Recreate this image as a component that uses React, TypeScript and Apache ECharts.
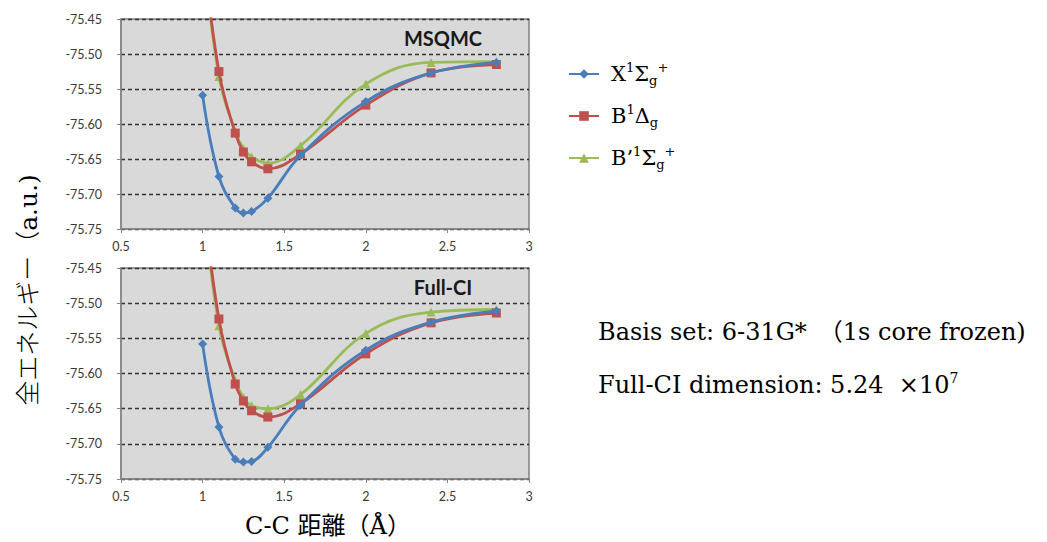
import React, { useEffect, useRef } from "react";
import * as echarts from "echarts";

const xValues = [1.0, 1.1, 1.2, 1.25, 1.3, 1.4, 1.6, 2.0, 2.4, 2.8];

const msqmcX = [-75.559, -75.675, -75.72, -75.727, -75.725, -75.706, -75.645, -75.568, -75.527, -75.512];
const msqmcB = [-75.34, -75.525, -75.613, -75.64, -75.654, -75.664, -75.643, -75.573, -75.527, -75.515];
const msqmcBp = [-75.34, -75.532, -75.611, -75.635, -75.647, -75.656, -75.631, -75.543, -75.512, -75.511];

const fciX = [-75.558, -75.676, -75.722, -75.726, -75.725, -75.705, -75.645, -75.567, -75.527, -75.511];
const fciB = [-75.34, -75.5225, -75.615, -75.639, -75.653, -75.662, -75.643, -75.572, -75.528, -75.514];
const fciBp = [-75.34, -75.532, -75.61, -75.634, -75.646, -75.65, -75.63, -75.543, -75.5126, -75.509];

const seriesNames = ["X1Σg+", "B1Δg", "B'1Σg+"];
const legendRich = [
  "{sp| }{n|X}{sup|1}{n|Σ}{sub|g}{sup|+}",
  "{sp| }{n|B}{sup|1}{n|Δ}{sub|g}",
  "{sp| }{n|B’}{sup|1}{n|Σ}{sub|g}{sup|+}",
];
const colors = ["#4a7ebb", "#c0504d", "#9bbb59"];
const symbols = ["diamond", "rect", "triangle"];
const symbolSizes = [9, 9, 9];

const panelTitles = ["MSQMC", "Full-CI"];
const yMin = -75.75;
const yMax = -75.45;
const yStep = 0.05;
const xMin = 0.5;
const xMax = 3;
const xStep = 0.5;

const serif = "'DejaVu Serif', 'Noto Sans CJK JP', serif";
const sans = "Lato, 'Open Sans', sans-serif";

export default function App() {
  const ref = useRef<HTMLDivElement>(null);
  useEffect(() => {
    if (!ref.current) return;
    const chart = echarts.init(ref.current, null, { renderer: "svg" });
    const grids = [
      { left: 121, top: 19, width: 408, height: 210 },
      { left: 121, top: 268, width: 408, height: 211 },
    ].map((g) => ({
      ...g,
      show: true,
      backgroundColor: "#d9d9d9",
      borderColor: "#7f7f7f",
      borderWidth: 1.5,
    }));
    const xAxes = [0, 1].map((i) => ({
      type: "value",
      gridIndex: i,
      min: xMin,
      max: xMax,
      interval: xStep,
      axisLine: { show: true, onZero: false, lineStyle: { color: "#868686", width: 1.5 } },
      axisTick: { show: true, length: 4, lineStyle: { color: "#868686" } },
      axisLabel: { color: "#3a3a3a", fontFamily: sans, fontSize: 12.5, margin: 11 },
      splitLine: { show: false },
    }));
    const yAxes = [0, 1].map((i) => ({
      type: "value",
      gridIndex: i,
      min: yMin,
      max: yMax,
      interval: yStep,
      axisLine: { show: true, lineStyle: { color: "#868686", width: 1.5 } },
      axisTick: { show: true, length: 4, lineStyle: { color: "#868686" } },
      axisLabel: {
        color: "#3a3a3a",
        fontFamily: sans,
        fontSize: 12.5,
        margin: 19,
        formatter: (v: number) => v.toFixed(2),
      },
      splitLine: { show: true, lineStyle: { color: "#333333", type: [4, 3], width: 1.3 } },
    }));
    const panels = [
      [msqmcX, msqmcB, msqmcBp],
      [fciX, fciB, fciBp],
    ];
    const series: any[] = [];
    panels.forEach((sets, p) => {
      sets.forEach((vals, s) => {
        series.push({
          type: "line",
          name: seriesNames[s],
          xAxisIndex: p,
          yAxisIndex: p,
          data: xValues.map((x, k) => [x, vals[k]]),
          smooth: 0.4,
          clip: true,
          symbol: symbols[s],
          symbolSize: symbolSizes[s],
          color: colors[s],
          lineStyle: { width: 2.8, color: colors[s] },
          itemStyle: { color: colors[s] },
          z: 2 + (2 - s),
        });
      });
    });
    const richBase = {
      sp: { width: 7, fontSize: 10 },
      n: { fontFamily: serif, fontSize: 21, lineHeight: 26, color: "#000" },
      sup: { fontFamily: serif, fontSize: 13, lineHeight: 16, verticalAlign: "top", color: "#000" },
      sub: { fontFamily: serif, fontSize: 13, lineHeight: 14, verticalAlign: "bottom", color: "#000" },
    };
    chart.setOption({
      animation: false,
      grid: grids,
      xAxis: xAxes,
      yAxis: yAxes,
      legend: {
        orient: "vertical",
        left: 563,
        top: 56,
        itemWidth: 30,
        itemHeight: 12,
        itemGap: 16,
        data: seriesNames,
        formatter: (name: string) => legendRich[seriesNames.indexOf(name)],
        textStyle: { rich: richBase as any },
      },
      series,
      graphic: [
        ...panelTitles.map((t, i) => ({
          type: "text",
          x: 443,
          y: i === 0 ? 38 : 287,
          style: {
            text: t,
            fontFamily: sans,
            fontWeight: "bold",
            fontSize: 20,
            fill: "#1a1a1a",
            textAlign: "center",
            textVerticalAlign: "middle",
          },
          z: 10,
        })),
        {
          type: "text",
          x: 28,
          y: 290,
          rotation: Math.PI / 2,
          style: {
            text: "全エネルギー（a.u.)",
            fontFamily: serif,
            fontSize: 25,
            fontWeight: 300,
            fill: "#000",
            textAlign: "center",
            textVerticalAlign: "middle",
          },
        },
        {
          type: "text",
          x: 328,
          y: 526,
          style: {
            text: "C-C 距離（Å）",
            fontFamily: serif,
            fontSize: 24,
            fill: "#000",
            textAlign: "center",
            textVerticalAlign: "middle",
          },
        },
        {
          type: "text",
          x: 598,
          y: 332,
          style: {
            text: "Basis set: 6-31G*　（1s core frozen)",
            fontFamily: serif,
            fontSize: 24,
            fill: "#000",
            textAlign: "left",
            textVerticalAlign: "middle",
          },
        },
        {
          type: "text",
          x: 598,
          y: 385,
          style: {
            text: "Full-CI dimension: 5.24  ×10{s|7}",
            fontFamily: serif,
            fontSize: 24,
            fill: "#000",
            textAlign: "left",
            textVerticalAlign: "middle",
            rich: {
              s: { fontFamily: serif, fontSize: 14, lineHeight: 28, verticalAlign: "top", padding: [0, 0, 8, 0] },
            },
          },
        },
      ],
    });
    return () => chart.dispose();
  }, []);
  return (
    <div
      ref={ref}
      style={{ position: "absolute", left: 0, top: 0, width: 1047, height: 542, background: "#fff" }}
    />
  );
}
